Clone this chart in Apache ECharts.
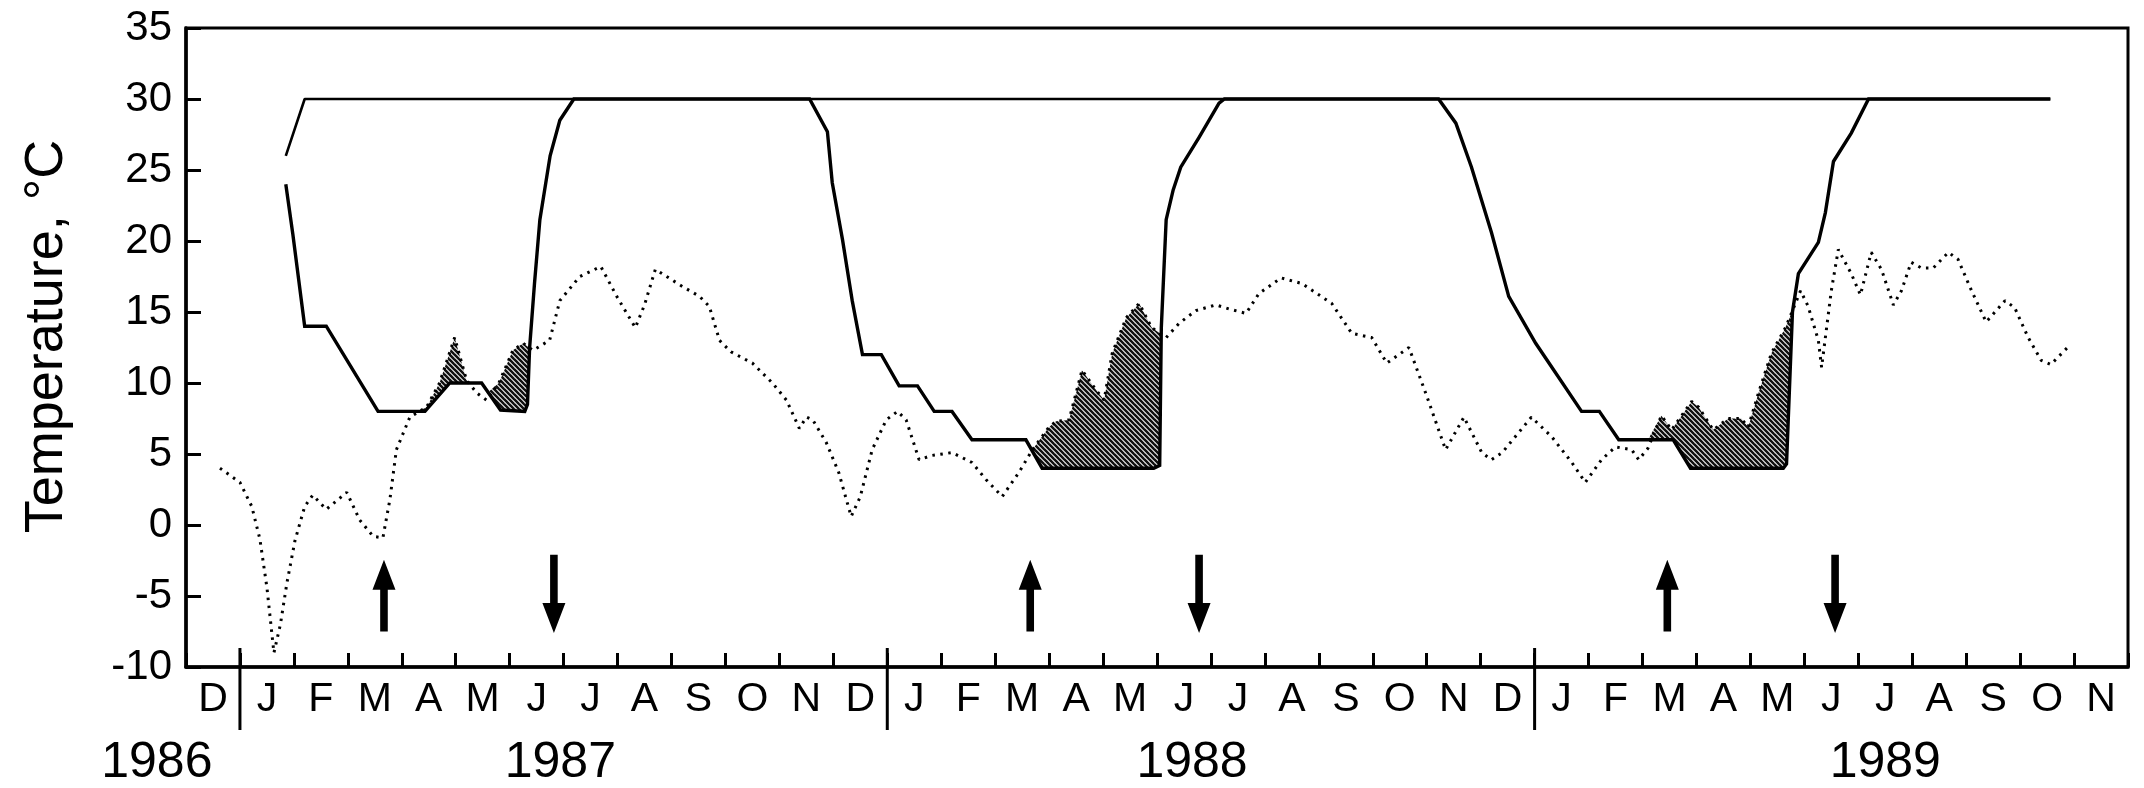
<!DOCTYPE html>
<html>
<head>
<meta charset="utf-8">
<script src="https://cdn.jsdelivr.net/npm/echarts@6/dist/echarts.min.js"></script>
<style>
html,body{margin:0;padding:0;background:#fff;}
#chart{width:2144px;height:788px;}
</style>
</head>
<body>
<div id="chart"></div>
<script>
// ---- data (x = months since 1 Dec 1986, y = temperature in °C) ----
const monthLabels = ['D','J','F','M','A','M','J','J','A','S','O','N','D','J','F','M','A','M','J','J','A','S','O','N','D','J','F','M','A','M','J','J','A','S','O','N'];
const yTicks = [-10, -5, 0, 5, 10, 15, 20, 25, 30, 35];
const yearNames = ['1986', '1987', '1988', '1989'];
const yearCenters = [-0.54, 6.94, 18.65, 31.5];
const yearDividers = [1, 13, 25];

// upper solid line (starts Jan 1987, stays at 30)
const limitUpper = [[1.85,26],[2.2,30],[34.56,30]];

// lower solid line (winter drops of the limit)
const limitLower = [
  [1.85,24],[1.98,20.5],[2.2,14],[2.6,14],[3.56,8],[4.43,8],[4.89,10],[5.48,10],[5.83,8.1],[6.28,8],
  [6.33,8.5],[6.37,12.5],[6.46,17],[6.56,21.5],[6.75,26],[6.93,28.5],[7.19,30],
  [11.56,30],[11.89,27.7],[11.98,24.1],[12.17,20.1],[12.35,15.8],[12.54,12],[12.89,12],[13.22,9.8],
  [13.56,9.8],[13.87,8],[14.2,8],[14.57,6],[15.57,6],[15.87,4],[17.94,4],[18.05,4.2],[18.08,13.9],
  [18.12,17.3],[18.17,21.5],[18.3,23.6],[18.44,25.2],[18.78,27.3],[19.15,29.7],[19.25,30],
  [23.22,30],[23.54,28.3],[23.83,25.2],[24.2,20.6],[24.52,16.1],[25.02,12.8],[25.87,8],[26.2,8],
  [26.56,6],[27.57,6],[27.89,4],[29.61,4],[29.67,4.3],[29.78,15],[29.89,17.7],[30.26,19.9],
  [30.39,22],[30.54,25.6],[30.87,27.6],[31.19,30],[34.56,30]
];

// dotted line (measured temperature)
const waterTemp = [
  [0.63,4.0],[1.0,3.0],[1.22,1.3],[1.37,-1.0],[1.5,-4.4],[1.63,-9.0],[1.75,-7.0],[1.87,-4.1],[2.02,-1.1],
  [2.2,1.3],[2.35,2.1],[2.6,1.1],[2.98,2.3],[3.22,0.35],[3.47,-0.8],[3.65,-0.9],[3.78,1.8],[3.9,5.3],
  [4.15,7.6],[4.46,8.3],[4.7,10],[4.98,13.2],[5.2,10.2],[5.39,9.3],[5.57,8.8],[5.8,10],[6.06,12.3],
  [6.25,12.8],[6.43,12.3],[6.74,13],[6.93,15.8],[7.3,17.5],[7.69,18.2],[8.0,16],[8.33,13.9],[8.5,15.5],
  [8.7,18],[9.2,16.8],[9.52,16.1],[9.7,15.4],[9.89,13.0],[10.1,12.2],[10.5,11.4],[10.87,10],[11.13,8.8],
  [11.37,6.8],[11.5,7.6],[11.62,7.4],[11.87,5.8],[12.1,3.7],[12.33,0.6],[12.5,2],[12.72,5.3],[12.98,7.4],
  [13.19,8.0],[13.35,7.4],[13.59,4.6],[13.83,4.9],[14.2,5.1],[14.57,4.4],[14.83,3.2],[15.13,2.0],
  [15.44,3.7],[15.69,5.3],[16.0,6.9],[16.13,7.3],[16.37,7.4],[16.61,10.9],[16.87,9.5],[17.02,8.8],
  [17.17,12.1],[17.43,14.6],[17.67,15.6],[17.9,13.9],[18.17,13.2],[18.41,14.2],[18.72,15.1],[19.09,15.5],
  [19.35,15.2],[19.65,14.9],[19.89,16.3],[20.3,17.4],[20.69,17.0],[21.24,15.6],[21.61,13.5],[21.98,13.2],
  [22.26,11.4],[22.67,12.5],[22.98,9.3],[23.35,5.3],[23.69,7.6],[24.02,5.1],[24.2,4.6],[24.4,5.1],
  [24.94,7.6],[25.32,6.2],[25.69,4.4],[25.94,3.0],[26.24,4.6],[26.5,5.5],[26.8,5.3],[26.93,4.6],
  [27.1,5.4],[27.35,7.7],[27.54,6.7],[27.67,7.4],[27.91,8.7],[28.04,8.3],[28.31,6.7],[28.59,7.5],
  [28.83,7.5],[28.96,6.9],[29.15,9.3],[29.39,12.1],[29.65,13.9],[29.76,14.9],[29.93,16.5],[30.07,15.4],
  [30.26,13],[30.32,11.1],[30.5,16.5],[30.63,19.4],[30.87,17.7],[31.04,16.2],[31.24,19.2],[31.43,18.0],
  [31.65,15.5],[31.8,16.5],[31.98,18.5],[32.17,18.1],[32.39,18.1],[32.67,19.2],[32.85,18.7],[33.1,16.5],
  [33.37,14.3],[33.72,15.8],[33.9,15.3],[34.15,13.2],[34.39,11.6],[34.57,11.3],[34.93,12.7]
];

// periods where the area between the two curves is hatched
const shadeRanges = [[4.3,5.3],[5.6,6.45],[15.6,18.1],[27.0,29.85]];

// arrows: [month, tail value, head value]
const arrowsUp = [[3.67,-7.5,-2.45],[15.65,-7.5,-2.45],[27.46,-7.5,-2.45]];
const arrowsDown = [[6.82,-2.1,-7.6],[18.78,-2.1,-7.6],[30.57,-2.1,-7.6]];

// ---- helpers ----
const FONT = '"Liberation Sans", Arial, Helvetica, sans-serif';
function interp(arr, x) {
  if (x < arr[0][0] || x > arr[arr.length-1][0]) return null;
  for (let i = 0; i < arr.length - 1; i++) {
    const a = arr[i], b = arr[i+1];
    if (x >= a[0] && x <= b[0]) {
      if (b[0] === a[0]) return Math.max(a[1], b[1]);
      return a[1] + (b[1]-a[1]) * (x - a[0]) / (b[0] - a[0]);
    }
  }
  return null;
}
function makeHatch() {
  const s = 5;
  const c = document.createElement('canvas');
  c.width = s; c.height = s;
  const g = c.getContext('2d');
  g.fillStyle = '#ffffff'; g.fillRect(0,0,s,s);
  g.strokeStyle = '#111111'; g.lineWidth = 2.6;
  for (let k = -1; k <= 1; k++) {
    g.beginPath(); g.moveTo(s*k-1, -1); g.lineTo(s*k+s+1, s+1); g.stroke();
  }
  return c;
}
const hatch = { image: makeHatch(), repeat: 'repeat' };

function renderArrow(params, api) {
  const m = api.value(0);
  const p0 = api.coord([m, api.value(1)]);
  const p1 = api.coord([m, api.value(2)]);
  const dir = p1[1] > p0[1] ? 1 : -1;
  const headLen = 30, hw = 11.5, sh = 3.8;
  const x = p0[0];
  const base = p1[1] - dir * headLen;
  return {
    type: 'polygon',
    shape: { points: [[x-sh,p0[1]],[x+sh,p0[1]],[x+sh,base],[x+hw,base],[x,p1[1]],[x-hw,base],[x-sh,base]] },
    style: { fill: '#000' }
  };
}

const chart = echarts.init(document.getElementById('chart'), null, { renderer: 'canvas' });
const option = {
  animation: false,
  backgroundColor: '#fff',
  grid: { left: 186, right: 16, top: 28, bottom: 121, show: true, borderColor: '#000', borderWidth: 3, backgroundColor: 'transparent' },
  xAxis: [
    { type: 'value', min: 0, max: 36, interval: 1, position: 'bottom',
      axisLine: { show: true, onZero: false, lineStyle: { color: '#000', width: 3.5 } },
      axisTick: { show: false }, axisLabel: { show: false }, splitLine: { show: false } },
    { type: 'category', data: monthLabels, boundaryGap: true, position: 'bottom',
      axisLine: { show: false, onZero: false },
      axisTick: { show: true, inside: true, length: 14, interval: 0, lineStyle: { color: '#000', width: 3 } },
      axisLabel: { interval: 0, color: '#000', fontSize: 41, fontFamily: FONT, margin: 12 },
      splitLine: { show: false } }
  ],
  yAxis: {
    type: 'value', min: yTicks[0], max: yTicks[yTicks.length-1], interval: 5,
    name: 'Temperature, °C', nameLocation: 'middle', nameGap: 112,
    nameTextStyle: { color: '#000', fontSize: 54, fontFamily: FONT, padding: [0,0,0,22] },
    axisLine: { show: true, onZero: false, lineStyle: { color: '#000', width: 3.5 } },
    axisTick: { show: true, inside: true, length: 15, lineStyle: { color: '#000', width: 3 } },
    axisLabel: { color: '#000', fontSize: 42, fontFamily: FONT, margin: 14 },
    splitLine: { show: false }
  },
  series: [
    { type: 'custom', name: 'shade', xAxisIndex: 0, silent: true, z: 1,
      data: shadeRanges,
      renderItem: function (params, api) {
        const a = api.value(0), b = api.value(1);
        const xs = [a, b];
        waterTemp.forEach(p => { if (p[0] > a && p[0] < b) xs.push(p[0]); });
        limitLower.forEach(p => { if (p[0] > a && p[0] < b) xs.push(p[0]); });
        xs.sort((u, v) => u - v);
        const top = [], bot = [];
        xs.forEach(x => {
          const s = interp(limitLower, x), d = interp(waterTemp, x);
          if (s === null || d === null) return;
          top.push(api.coord([x, Math.max(s, d)]));
          bot.push(api.coord([x, s]));
        });
        return { type: 'polygon', shape: { points: top.concat(bot.reverse()) }, style: { fill: hatch, stroke: null } };
      }
    },
    { type: 'line', name: 'temperature', xAxisIndex: 0, data: waterTemp, showSymbol: false, z: 3,
      lineStyle: { color: '#000', width: 3, type: [2.5, 5.5] } },
    { type: 'line', name: 'limitUpper', xAxisIndex: 0, data: limitUpper, showSymbol: false, z: 4,
      lineStyle: { color: '#000', width: 2.6 } },
    { type: 'line', name: 'limitLower', xAxisIndex: 0, data: limitLower, showSymbol: false, z: 4,
      lineStyle: { color: '#000', width: 3.4, join: 'miter' } },
    { type: 'custom', name: 'arrowsUp', xAxisIndex: 0, silent: true, z: 5, data: arrowsUp, renderItem: renderArrow },
    { type: 'custom', name: 'arrowsDown', xAxisIndex: 0, silent: true, z: 5, data: arrowsDown, renderItem: renderArrow },
    { type: 'custom', name: 'yearDividers', xAxisIndex: 0, silent: true, z: 6, clip: false,
      data: yearDividers.map(m => [m, yTicks[0]]),
      renderItem: function (params, api) {
        const p = api.coord([api.value(0), api.value(1)]);
        return { type: 'line', shape: { x1: p[0], y1: p[1] - 19, x2: p[0], y2: p[1] + 63 }, style: { stroke: '#000', lineWidth: 3 } };
      }
    },
    { type: 'custom', name: 'years', xAxisIndex: 0, silent: true, z: 6, clip: false,
      data: yearCenters.map(m => [m, yTicks[0]]),
      renderItem: function (params, api) {
        const p = api.coord([api.value(0), api.value(1)]);
        return { type: 'text', x: p[0], y: p[1] + 96,
          style: { text: yearNames[params.dataIndex], fill: '#000', font: '50px ' + FONT, textAlign: 'center', textVerticalAlign: 'middle' } };
      }
    }
  ]
};
chart.setOption(option);
</script>
</body>
</html>
